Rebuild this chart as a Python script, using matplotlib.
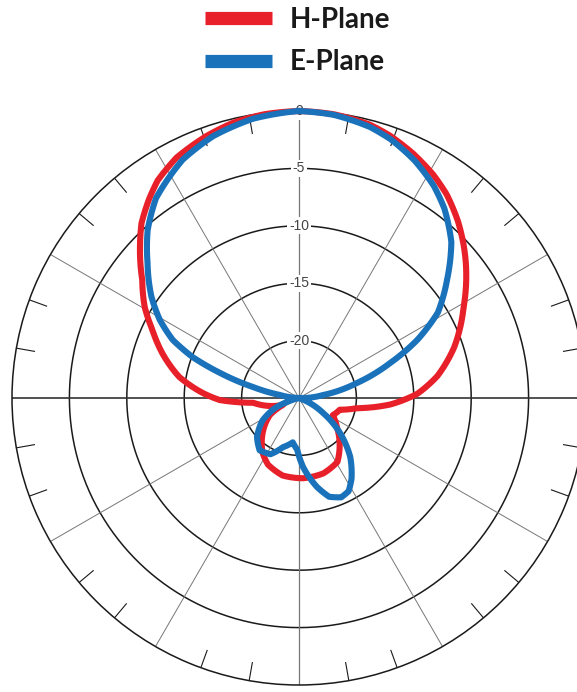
import numpy as np
import matplotlib
matplotlib.use('Agg')
import matplotlib.pyplot as plt
from matplotlib.lines import Line2D

# radiation pattern, angle in degrees (clockwise from top), level in dB
h_angles = [0, 7, 14.5, 19, 25, 31, 36, 42, 47, 51, 61, 72, 81, 88, 94, 100, 106, 117, 128, 139,
            149, 162, 177, 192, 205, 214, 227, 240, 247, 264, 268.5, 273, 280, 288, 295, 300.5,
            307, 313.5, 318, 323, 327, 333, 340.5, 346.5, 353, 360]
h_db = [0, -0.1, -0.4, -0.8, -1.5, -2.3, -3.1, -4.3, -5.4, -6.3, -8.6, -10.8, -12.8, -14.7, -17.0,
        -19.9, -21.3, -21.7, -20.8, -19.6, -18.5, -18.1, -18.0, -18.1, -18.6, -19.3, -20.7, -22.1,
        -23.5, -21.0, -18.1, -16.6, -14.4, -12.5, -10.9, -9.4, -7.9, -5.9, -4.5, -3.3, -2.4, -1.5,
        -0.8, -0.35, -0.1, 0]

e_angles = [0, 7, 14.7, 19.6, 26, 32.4, 37.5, 44.3, 51.4, 58.4, 63.8, 69, 75.5, 83, 92, 110, 122,
            130.5, 139, 147, 152, 157, 163, 168.6, 176.7, 182, 188, 198, 207, 217, 227, 238.6, 248,
            256, 272, 279, 283.4, 287.6, 291, 294.7, 299.3, 304.5, 311.8, 318, 324.4, 334, 341.8,
            350.6, 360]
e_db = [0, -0.15, -0.6, -1.1, -2.0, -3.1, -4.2, -6.0, -8.5, -10.8, -13.5, -16.5, -19.8, -22.9,
        -25, -25, -22.5, -20.3, -18.2, -16.6, -15.8, -15.6, -16.0, -17.1, -19.0, -20.5, -21.1,
        -20.5, -19.5, -19.3, -20.0, -21.3, -22.9, -25, -25, -23.3, -20.9, -17.8, -15.1, -12.9,
        -11.1, -9.4, -7.3, -5.3, -3.6, -1.9, -1.0, -0.35, 0]

ring_levels = [-20, -15, -10, -5, 0]
ring_labels = ['-20', '-15', '-10', '-5', '0']
series_names = ['H-Plane', 'E-Plane']
series_colors = ['#E8202A', '#1A72BB']

r_min, r_max = -25, 0
W, H = 577, 692

fig = plt.figure(figsize=(W / 100, H / 100), dpi=100)
ax = fig.add_axes([12 / W, 7 / H, 574 / W, 574 / H], projection='polar')
ax.set_theta_zero_location('N')
ax.set_theta_direction(-1)
ax.set_rlim(r_min, r_max)
ax.grid(False)
ax.set_xticks([])
ax.set_yticks([])
ax.spines['polar'].set_color('#1a1a1a')
ax.spines['polar'].set_linewidth(1.1)

# rings
full = np.linspace(0, 2 * np.pi, 721)
for lvl in ring_levels[:-1]:
    ax.plot(full, np.full_like(full, lvl), color='#1a1a1a', lw=1.1, zorder=1)

# spokes every 30 deg
for a in range(0, 360, 30):
    t = np.deg2rad(a)
    if a % 180 == 90:
        c, w = '#333333', 1.2
    elif a % 180 == 0:
        c, w = '#777777', 0.9
    else:
        c, w = '#777777', 0.7
    ax.plot([t, t], [r_min, r_max], color=c, lw=w, zorder=1)

# small ticks on the outer circle
for a in range(0, 360, 10):
    if a % 30:
        t = np.deg2rad(a)
        ax.plot([t, t], [r_max, r_max - 1.6], color='#1a1a1a', lw=0.8, zorder=1)

for lvl, lab in zip(ring_levels, ring_labels):
    ax.text(0, lvl, lab, ha='center', va='center', fontsize=10, color='#444444',
            family='Liberation Sans', zorder=2,
            bbox=dict(boxstyle='square,pad=0.12', fc='white', ec='none'))

for ang, db, col, z in [(h_angles, h_db, series_colors[0], 5),
                        (e_angles, e_db, series_colors[1], 6)]:
    line, = ax.plot(np.deg2rad(ang), db, color=col, lw=4.4,
                    solid_joinstyle='round', clip_on=False, zorder=z)
    # draw each segment along theta instead of as a straight chord
    line.get_path()._interpolation_steps = 30

# legend drawn by hand (pixel positions from the top of the image)
for name, col, bar_y, base_y in zip(series_names, series_colors, [18, 61], [27.5, 70]):
    fig.add_artist(Line2D([205 / W, 272 / W], [1 - bar_y / H, 1 - bar_y / H],
                          transform=fig.transFigure, color=col, lw=9.5,
                          solid_capstyle='butt'))
    fig.text(290 / W, 1 - base_y / H, name, ha='left', va='baseline',
             family='Lato', weight='bold', fontsize=20, color='#1a1a1a')

fig.savefig('out.png', dpi=100)
